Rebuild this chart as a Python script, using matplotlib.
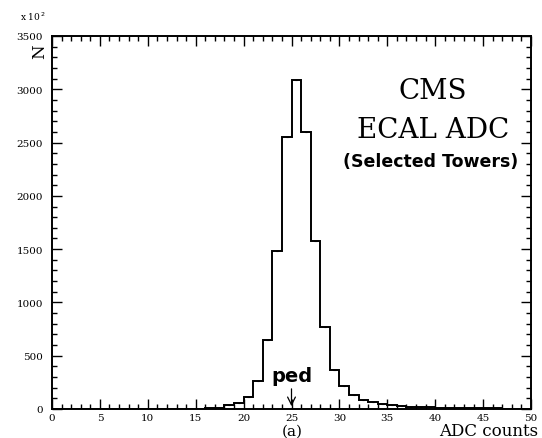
import numpy as np
import matplotlib
matplotlib.use("Agg")
import matplotlib.pyplot as plt
from matplotlib.ticker import MultipleLocator

# Histogram data: ADC counts (bin lower edges, width 1) and entries (x 10^2)
bin_edges = list(range(0, 51))
counts = [0, 0, 0, 0, 0, 0, 0, 0, 0, 0,
          0, 0, 0, 0, 0, 0, 5, 14, 35, 56,
          110, 260, 650, 1480, 2555, 3090, 2600, 1575, 770, 370,
          212, 135, 87, 63, 47, 37, 28, 22, 18, 15,
          12, 10, 9, 8, 7, 6, 5, 4, 4, 3]
x_ticks = [0, 5, 10, 15, 20, 25, 30, 35, 40, 45, 50]
y_ticks = [0, 500, 1000, 1500, 2000, 2500, 3000, 3500]

serif = ["DejaVu Serif"]
sans = ["DejaVu Sans"]

fig = plt.figure(figsize=(5.42, 4.39), dpi=100)
ax = fig.add_axes([52/542, 29/439, (531-52)/542, (410-37)/439])

edges = np.array(bin_edges, dtype=float)
vals = np.array(counts, dtype=float)
ax.stairs(vals, edges, color="black", linewidth=1.4)
centers = edges[:-1] + 0.5
mask = vals > 0
ax.errorbar(centers[mask], vals[mask], xerr=0.12, fmt="none",
            ecolor="black", elinewidth=0.8)

ax.set_xlim(0, 50)
ax.set_ylim(0, 3500)
ax.set_xticks(x_ticks)
ax.set_yticks(y_ticks)
ax.xaxis.set_minor_locator(MultipleLocator(1))
ax.yaxis.set_minor_locator(MultipleLocator(100))
ax.tick_params(which="both", direction="in", top=True, right=True,
               labeltop=False, labelright=False, width=1)
ax.tick_params(which="major", length=7, labelsize=7.5)
ax.tick_params(which="minor", length=3.5)
ax.tick_params(axis="x", pad=3)
ax.tick_params(axis="y", pad=6.5)
for lab in ax.get_xticklabels() + ax.get_yticklabels():
    lab.set_family(serif)
for s in ax.spines.values():
    s.set_linewidth(1.4)

# Axis labels in ROOT style
fig.text(20/542, 1 - 17/439, "x 10$^{\\,2}$", family=serif, fontsize=6.5,
         ha="left", va="center")
fig.text(40/542, 1 - 52/439, "N", family=serif, fontsize=12, rotation=90,
         ha="center", va="center")
fig.text(538/542, 1 - 432/439, "ADC counts", family=serif, fontsize=12,
         ha="right", va="center")
fig.text(292/542, 1 - 432/439, "(a)", family=serif, fontsize=11,
         ha="center", va="center")

# Annotations
ax.text(0.795, 0.855, "CMS", transform=ax.transAxes, family=serif,
        fontsize=20, ha="center", va="center")
ax.text(0.795, 0.748, "ECAL ADC", transform=ax.transAxes, family=serif,
        fontsize=20, ha="center", va="center")
ax.text(0.79, 0.665, "(Selected Towers)", transform=ax.transAxes, family=sans,
        fontsize=12.5, fontweight="bold", ha="center", va="center")
ax.text(25, 310, "ped", family=sans, fontsize=14, fontweight="bold",
        ha="center", va="center")
ax.annotate("", xy=(25, 0), xytext=(25, 215),
            arrowprops=dict(arrowstyle="->", color="black", lw=0.9,
                            mutation_scale=14))

fig.savefig("out.png", dpi=100)
